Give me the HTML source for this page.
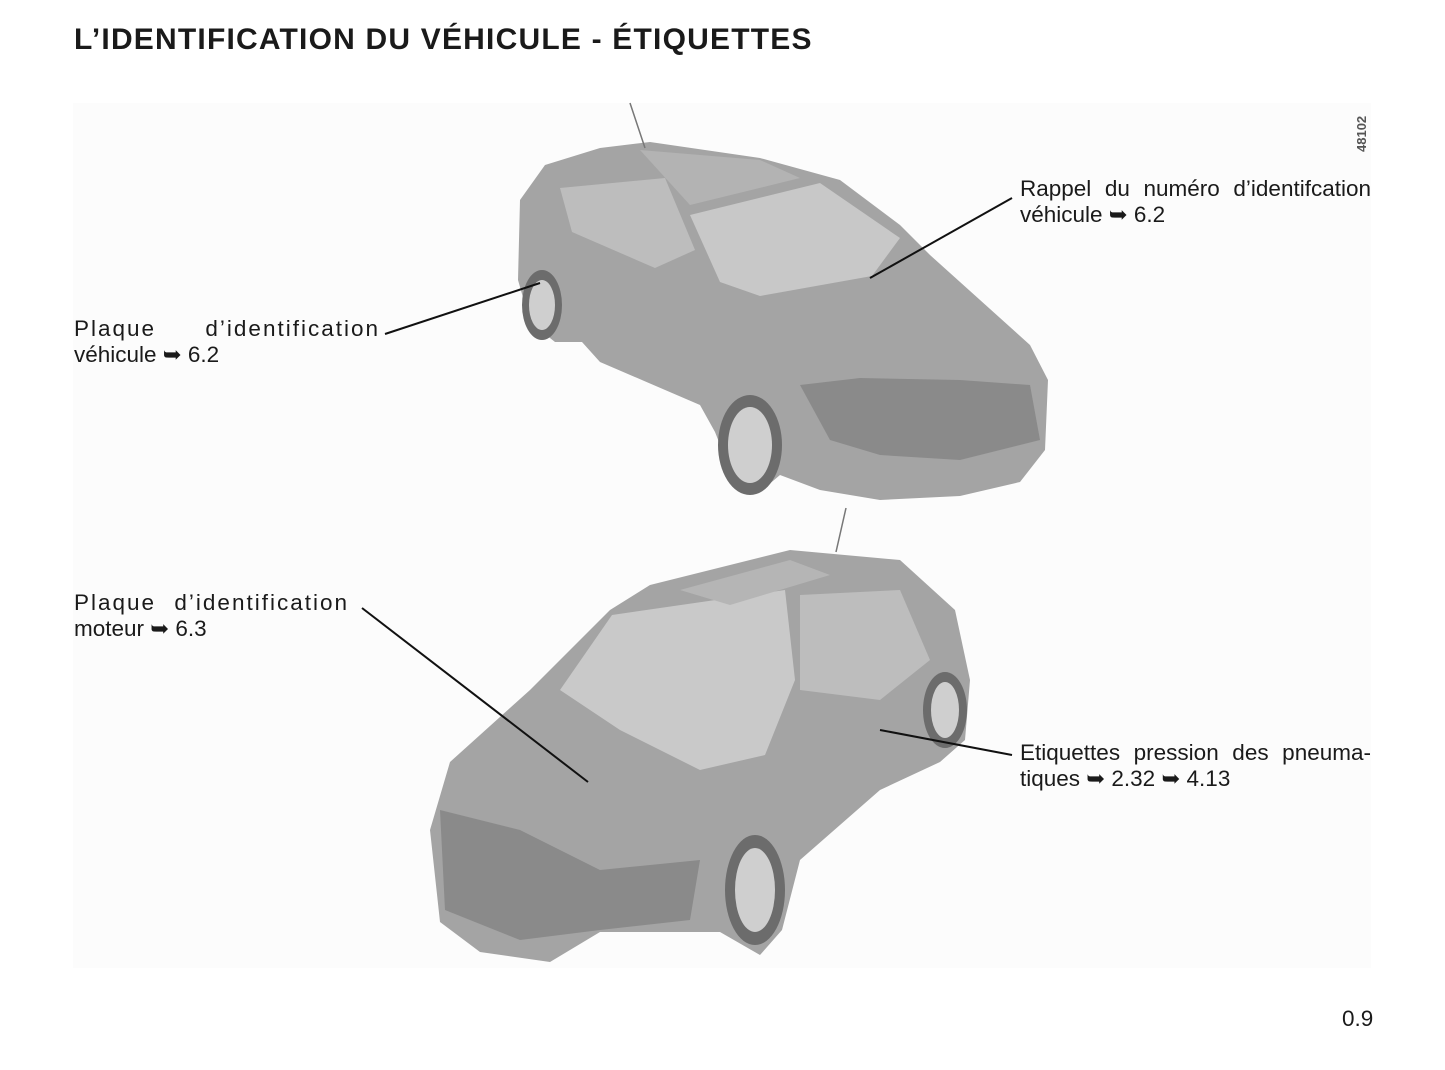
<!DOCTYPE html>
<html><head><meta charset="utf-8"><style>
body{margin:0;width:1445px;height:1070px;background:#fff;position:relative;font-family:"Liberation Sans",sans-serif;color:#1a1a1a;overflow:hidden}
.t{position:absolute;font-size:22.5px;line-height:26px}
.j{text-align:justify;text-align-last:justify}
h1{position:absolute;left:74px;top:23px;margin:0;font-size:30px;font-weight:bold;letter-spacing:1.2px;white-space:nowrap}
</style></head><body>
<h1>L’IDENTIFICATION DU VÉHICULE - ÉTIQUETTES</h1>
<div style="position:absolute;left:73px;top:103px;width:1298px;height:865px;background:#fcfcfc"></div>
<svg style="position:absolute;left:0;top:0" width="1445" height="1070">
<g stroke="none">
<polygon fill="#a4a4a4" points="520,200 545,165 600,148 650,142 760,158 840,180 900,225 930,255 1030,345 1048,380 1045,450 1020,482 960,496 880,500 820,490 780,475 760,492 730,470 715,432 700,405 600,362 582,342 555,342 530,322 518,280"/>
<polygon fill="#c8c8c8" points="690,215 820,183 900,238 872,276 760,296 720,282"/>
<polygon fill="#bdbdbd" points="560,188 665,178 695,250 655,268 572,232"/>
<polygon fill="#b3b3b3" points="640,150 760,160 800,178 690,205"/>
<ellipse cx="750" cy="445" rx="32" ry="50" fill="#6c6c6c"/>
<ellipse cx="750" cy="445" rx="22" ry="38" fill="#cfcfcf"/>
<ellipse cx="542" cy="305" rx="20" ry="35" fill="#6c6c6c"/>
<ellipse cx="542" cy="305" rx="13" ry="25" fill="#cfcfcf"/>
<polygon fill="#8a8a8a" points="800,385 860,378 960,380 1030,385 1040,440 960,460 880,455 830,440"/>
<polygon fill="#a4a4a4" points="610,610 650,585 790,550 900,560 955,610 970,680 965,740 940,762 880,790 800,860 782,930 760,955 720,932 600,932 550,962 480,952 440,922 430,830 450,762 530,690 560,660"/>
<polygon fill="#c9c9c9" points="560,690 612,615 785,590 795,680 765,755 700,770 620,730"/>
<polygon fill="#bdbdbd" points="800,595 900,590 930,660 880,700 800,690"/>
<polygon fill="#b5b5b5" points="680,590 790,560 830,575 730,605"/>
<ellipse cx="755" cy="890" rx="30" ry="55" fill="#6c6c6c"/>
<ellipse cx="755" cy="890" rx="20" ry="42" fill="#cfcfcf"/>
<ellipse cx="945" cy="710" rx="22" ry="38" fill="#6c6c6c"/>
<ellipse cx="945" cy="710" rx="14" ry="28" fill="#cfcfcf"/>
<polygon fill="#8a8a8a" points="440,810 520,830 600,870 700,860 690,920 600,930 520,940 445,910"/>
</g>
<g stroke="#111" stroke-width="2" fill="none">
<line x1="385" y1="334" x2="540" y2="283"/>
<line x1="1012" y1="198" x2="870" y2="278"/>
<line x1="362" y1="608" x2="588" y2="782"/>
<line x1="1012" y1="755" x2="880" y2="730"/>
<line x1="630" y1="103" x2="645" y2="148" stroke="#777" stroke-width="1.5"/>
<line x1="846" y1="508" x2="836" y2="552" stroke="#777" stroke-width="1.5"/>
</g>
<text x="1366" y="152" transform="rotate(-90 1366 152)" font-family="Liberation Sans" font-size="13" font-weight="bold" fill="#555">48102</text>
</svg>
<div class="t" style="left:74px;top:316px;width:306px"><div class="j" style="letter-spacing:2px">Plaque d’identification</div>véhicule ➥ 6.2</div>
<div class="t" style="left:74px;top:590px;width:275px"><div class="j" style="letter-spacing:2px">Plaque d’identification</div>moteur ➥ 6.3</div>
<div class="t" style="left:1020px;top:176px;width:351px"><div class="j">Rappel du numéro d’identifcation</div>véhicule ➥ 6.2</div>
<div class="t" style="left:1020px;top:740px;width:351px"><div class="j">Etiquettes pression des pneuma-</div>tiques ➥ 2.32 ➥ 4.13</div>
<div class="t" style="left:1342px;top:1006px">0.9</div>
</body></html>
